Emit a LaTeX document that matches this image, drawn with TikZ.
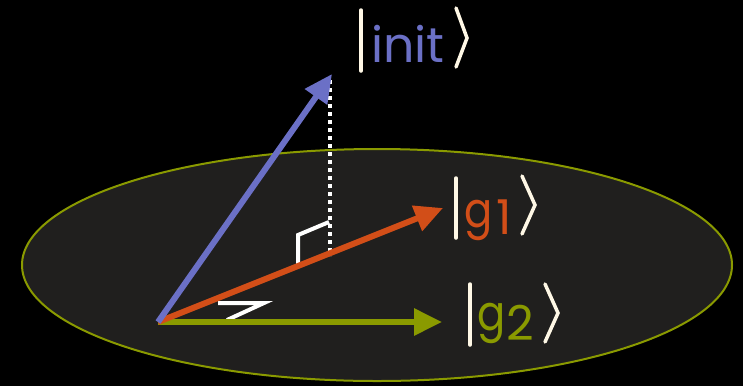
\documentclass[tikz,border=0pt]{standalone}
\usepackage{fontspec}
\setmainfont{Poppins}
\usetikzlibrary{arrows.meta,shapes.geometric}
\definecolor{bgc}{HTML}{000000}
\definecolor{planec}{HTML}{201F1E}
\definecolor{olive}{HTML}{8A9A00}
\definecolor{vblue}{HTML}{6B70C6}
\definecolor{vred}{HTML}{D24E18}
\definecolor{cream}{HTML}{FFF8E6}
\tikzset{
  vec/.style={line width=6pt,-{Triangle[length=28pt,width=26pt]}},
  ketline/.style={cream,line width=3.5pt,line cap=round,line join=miter},
  anglemark/.style={white,line width=4pt},
  lbl/.style={inner sep=0pt,anchor=base west,font=\fontsize{49}{49}\selectfont},
  sub/.style={inner sep=0pt,anchor=base west,font=\fontsize{48}{48}\selectfont},
}
\begin{document}
\begin{tikzpicture}[x=1pt,y=-1pt]
\fill[bgc] (0,0) rectangle (743,386);
\useasboundingbox (0,0) rectangle (743,386);
\node[ellipse,draw=olive,fill=planec,line width=2pt,minimum width=710pt,minimum height=232pt,inner sep=0pt] (plane) at (377,265) {};
\coordinate (O) at (158,322);
\coordinate (tinit) at (332,74);
\coordinate (tg1) at (443,208);
\coordinate (tg2) at (442,322);
\coordinate (ptop) at (330,80);
\coordinate (pfoot) at (330,256);
% dotted projection
\draw[white,line width=4pt,dash pattern=on 4pt off 4pt] (ptop) -- (pfoot);
% right angle marker
\draw[anglemark] (298,265) -- (298,235) -- (329,222);
% angle marker
\draw[anglemark] (218,303) -- (264,303) -- (227,320);
% vectors
\draw[vec,olive] (O) -- (tg2);
\draw[vec,vred] (O) -- (tg1);
\draw[vec,vblue] (O) -- (tinit);
% labels
\node[lbl,text=vblue] (linit) at (371,62) {init};
\draw[ketline] (361,10) -- (361,71);
\draw[ketline] (456,8) -- (467,38) -- (456,67);
\node[lbl,text=vred] (lg1) at (464,227) {\scalebox{0.85}[1]{g}};
\node[sub,text=vred] (lg1s) at (496,234) {1};
\draw[ketline] (456,178) -- (456,238);
\draw[ketline] (522,176) -- (535,205) -- (522,234);
\node[lbl,text=olive] (lg2) at (477,330) {\scalebox{0.85}[1]{g}};
\node[sub,text=olive] (lg2s) at (506,340) {2};
\draw[ketline] (470,284) -- (470,345);
\draw[ketline] (545,284) -- (558,313) -- (545,342);
\end{tikzpicture}
\end{document}
